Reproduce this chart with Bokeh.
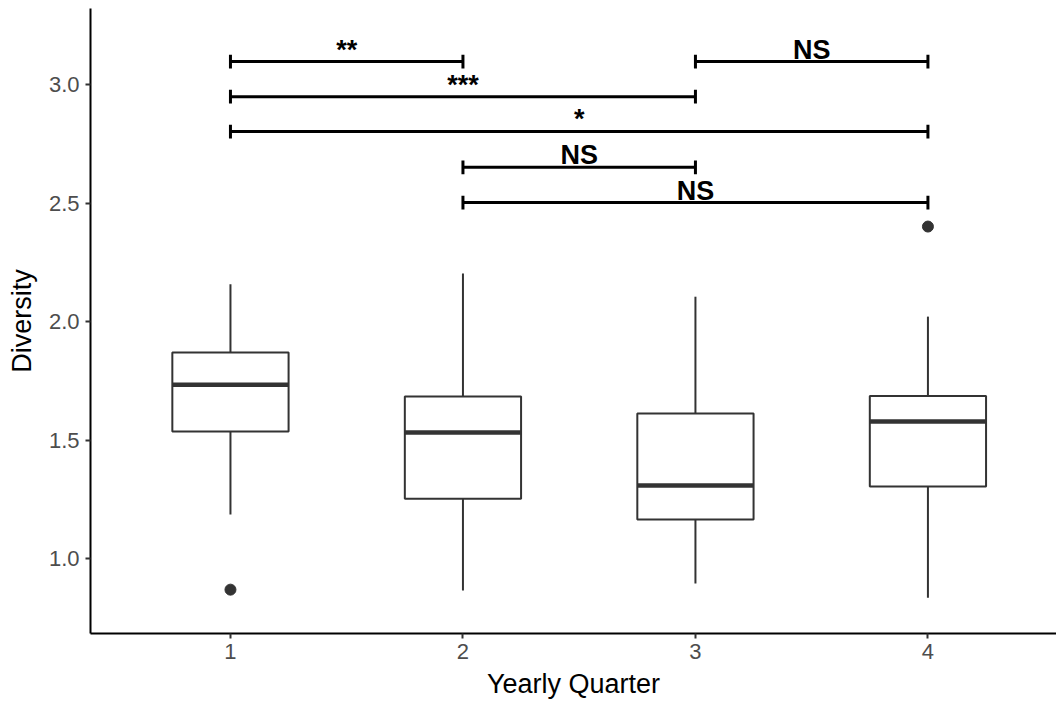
from bokeh.plotting import figure
from bokeh.models import Range1d, FixedTicker, CustomJSTickFormatter, ColumnDataSource
from bokeh.core.properties import value
from bokeh.embed import file_html
from bokeh.resources import INLINE

# ---- data ----
quarters = [1, 2, 3, 4]
whisker_low = [1.186, 0.865, 0.895, 0.835]
box_q1 = [1.536, 1.253, 1.165, 1.304]
box_median = [1.734, 1.532, 1.308, 1.578]
box_q3 = [1.870, 1.684, 1.612, 1.686]
whisker_high = [2.158, 2.203, 2.105, 2.021]
outlier_x = [1, 4]
outlier_y = [0.869, 2.401]

bracket_start = [1, 1, 1, 3, 2, 2]
bracket_end = [2, 3, 4, 4, 3, 4]
bracket_y = [3.097, 2.949, 2.802, 3.097, 2.651, 2.502]
bracket_label = ["**", "***", "*", "NS", "NS", "NS"]

x_tick_labels = ["1", "2", "3", "4"]
y_ticks = [1.0, 1.5, 2.0, 2.5, 3.0]

# ---- figure ----
p = figure(width=1056, height=702, output_backend="svg", toolbar_location=None,
           x_range=Range1d(0.398, 4.553), y_range=Range1d(0.684, 3.321),
           min_border_left=90, min_border_right=0, min_border_top=8, min_border_bottom=69)
p.grid.visible = False
p.outline_line_color = None
p.background_fill_color = "white"

FONT = "Liberation Sans"
box_w = 0.25
box_col = "#333333"

src = ColumnDataSource(dict(x=quarters, lo=whisker_low, q1=box_q1, med=box_median,
                            q3=box_q3, hi=whisker_high,
                            left=[q - box_w for q in quarters],
                            right=[q + box_w for q in quarters]))
p.segment(x0="x", y0="q3", x1="x", y1="hi", source=src, line_color=box_col, line_width=2)
p.segment(x0="x", y0="lo", x1="x", y1="q1", source=src, line_color=box_col, line_width=2)
p.quad(left="left", right="right", bottom="q1", top="q3", source=src,
       fill_color="white", line_color=box_col, line_width=2)
p.segment(x0="left", y0="med", x1="right", y1="med", source=src,
          line_color=box_col, line_width=4.5)
p.scatter(outlier_x, outlier_y, size=11, fill_color=box_col, line_color=box_col)

# brackets
cap = 0.029
bsrc = ColumnDataSource(dict(
    x0=bracket_start, x1=bracket_end, y=bracket_y,
    ylo=[y - cap for y in bracket_y], yhi=[y + cap for y in bracket_y],
    xm=[(a + b) / 2 for a, b in zip(bracket_start, bracket_end)],
    ty=[y + 0.051 for y in bracket_y], lab=bracket_label))
p.segment(x0="x0", y0="y", x1="x1", y1="y", source=bsrc, line_color="black", line_width=3)
p.segment(x0="x0", y0="ylo", x1="x0", y1="yhi", source=bsrc, line_color="black", line_width=3)
p.segment(x0="x1", y0="ylo", x1="x1", y1="yhi", source=bsrc, line_color="black", line_width=3)
p.text(x="xm", y="ty", text="lab", source=bsrc, text_font=value(FONT),
       text_font_size="27px", text_font_style="bold", text_color="black",
       text_align="center", text_baseline="alphabetic")

# axes
for ax in (p.xaxis[0], p.yaxis[0]):
    ax.axis_line_color = "black"
    ax.axis_line_width = 2
    ax.major_tick_line_color = "#333333"
    ax.major_tick_line_width = 2
    ax.major_tick_out = 5
    ax.major_tick_in = 0
    ax.minor_tick_line_color = None
    ax.major_label_text_color = "#4D4D4D"
    ax.major_label_text_font = FONT
    ax.major_label_text_font_size = "22px"
    ax.axis_label_text_font = FONT
    ax.axis_label_text_font_size = "27px"
    ax.axis_label_text_font_style = "normal"
    ax.axis_label_text_color = "black"
    ax.axis_label_text_line_height = 1.0

p.xaxis.ticker = FixedTicker(ticks=quarters)
p.xaxis.major_label_overrides = {q: l for q, l in zip(quarters, x_tick_labels)}
p.xaxis.axis_label = "Yearly Quarter"
p.xaxis.major_label_standoff = 5
p.xaxis.axis_label_standoff = 7

p.yaxis.ticker = FixedTicker(ticks=y_ticks)
p.yaxis.formatter = CustomJSTickFormatter(code="return tick.toFixed(1);")
p.yaxis.axis_label = "Diversity"
p.yaxis.major_label_standoff = 6
p.yaxis.axis_label_standoff = 9

open("out.html", "w").write(file_html(p, INLINE))
